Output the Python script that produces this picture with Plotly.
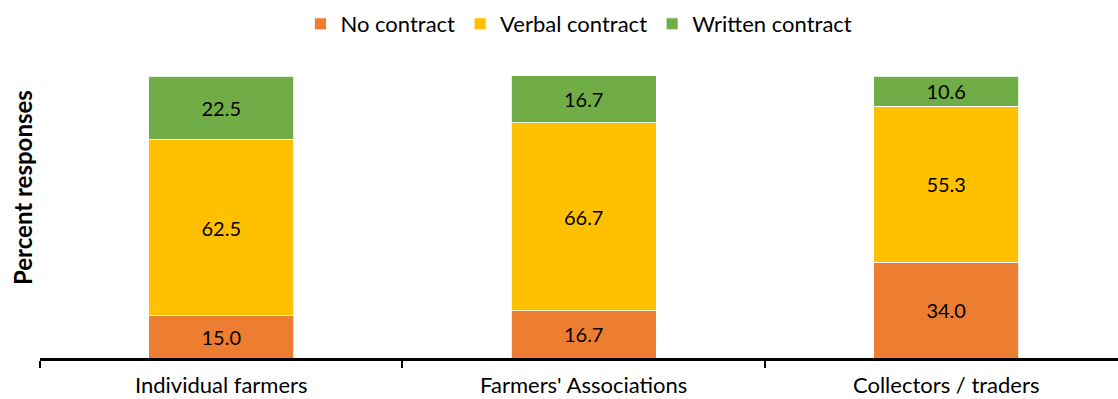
import plotly.graph_objects as go

categories = ["Individual farmers", "Farmers' Associations", "Collectors / traders"]
no_contract = [15.0, 16.7, 34.0]
verbal_contract = [62.5, 66.7, 55.3]
written_contract = [22.5, 16.7, 10.6]

series = [
    ("No contract", no_contract, "#ED7D31"),
    ("Verbal contract", verbal_contract, "#FFC000"),
    ("Written contract", written_contract, "#70AD47"),
]

FONT = "Lato, 'Open Sans', sans-serif"

fig = go.Figure()
for name, vals, color in series:
    fig.add_trace(go.Bar(
        name=name,
        x=categories,
        y=vals,
        width=0.4,
        marker=dict(color=color, line=dict(color="white", width=0.8)),
        texttemplate="%{y:.1f}",
        textposition="inside",
        insidetextanchor="middle",
        textangle=0,
        constraintext="none",
        textfont=dict(color="black", size=20, family=FONT),
        hoverinfo="skip",
    ))

fig.update_layout(
    barmode="stack",
    width=1118,
    height=399,
    margin=dict(l=40, r=0, t=76, b=41),
    plot_bgcolor="white",
    paper_bgcolor="white",
    font=dict(family=FONT, size=22, color="black"),
    legend=dict(
        orientation="h",
        x=0.5, xanchor="center",
        yref="container", y=1 - 24 / 399, yanchor="middle",
        font=dict(size=22, family=FONT),
        itemwidth=30,
        traceorder="normal",
    ),
    showlegend=True,
)

fig.update_xaxes(
    range=[-0.5, 2.474],
    showline=True,
    linecolor="black",
    linewidth=3,
    ticks="outside",
    tickson="boundaries",
    ticklen=7,
    tickwidth=2,
    tickcolor="black",
    showgrid=False,
    ticklabelstandoff=6,
    tickfont=dict(size=22, family=FONT),
)
fig.update_yaxes(
    range=[0, 100],
    visible=False,
    showgrid=False,
)

fig.add_annotation(
    text="<b>Percent responses</b>",
    xref="paper", yref="paper",
    x=(22 - 40) / 1078, y=(358 - 188) / 282,
    xanchor="center", yanchor="middle",
    textangle=-90,
    showarrow=False,
    font=dict(size=24, family=FONT, color="black"),
)

fig.write_html("out.html")
